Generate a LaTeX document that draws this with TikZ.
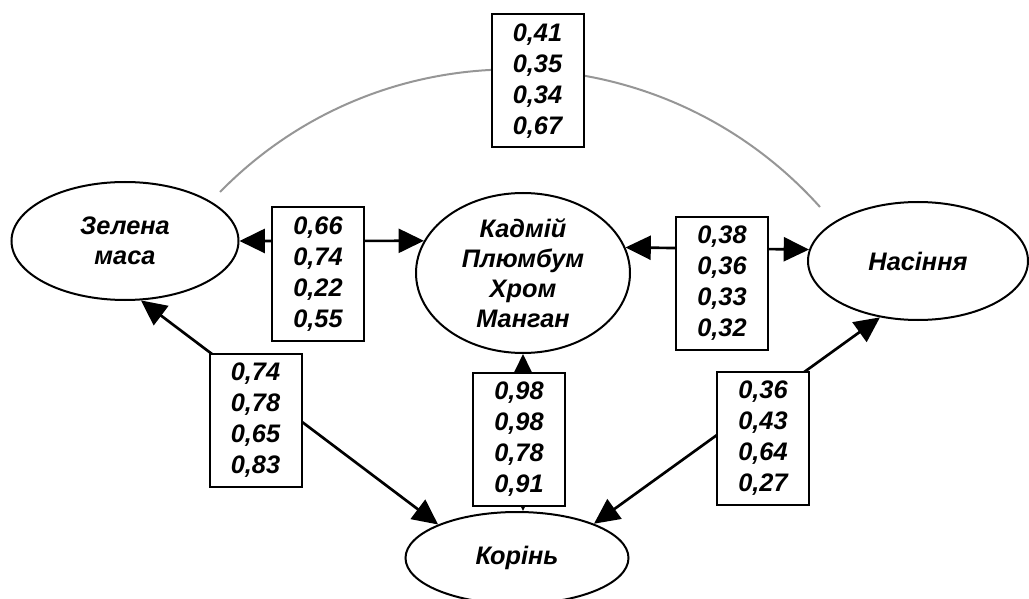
\documentclass[tikz,border=0pt]{standalone}
\usepackage{fontspec}
\setmainfont{Liberation Sans}
\usetikzlibrary{arrows.meta,shapes.geometric}

\tikzset{every picture/.style={line width=0.75pt}}
\tikzset{
  organ/.style={draw, ellipse, line width=1.5pt, inner sep=0pt, align=center,
    font=\fontsize{19}{22.5}\selectfont\bfseries\itshape},
  valbox/.style={draw, line width=1.5pt, fill=white, inner sep=0.75pt,
    minimum width=69pt, minimum height=99.75pt, align=center,
    font=\fontsize{19}{23.25}\selectfont\bfseries\itshape},
  biarrow/.style={line width=2pt,
    {Triangle[length=19pt,width=18pt]}-{Triangle[length=19pt,width=18pt]}},
  outerarc/.style={color={rgb, 255:red, 150; green, 150; blue, 150}, line width=1.5pt},
}

\begin{document}
\begin{tikzpicture}[x=0.75pt,y=0.75pt,yscale=-1,xscale=1]
\useasboundingbox (0,0) rectangle (1029,599);
%Shape: Ellipse [id:zel]
\node [organ, minimum width=170.25pt, minimum height=88.5pt] (zel) at (125,241) {Зелена\\маса};
%Shape: Ellipse [id:cen]
\node [organ, minimum width=160.5pt, minimum height=120pt] (cen) at (523,273) {Кадмій\\Плюмбум\\Хром\\Манган};
%Shape: Ellipse [id:nas]
\node [organ, minimum width=165pt, minimum height=88.5pt] (nas) at (918,261) {Насіння};
%Shape: Ellipse [id:kor]
\node [organ, minimum width=167.25pt, minimum height=69pt] (kor) at (517,558) {Корінь};
%Curve Lines [id:arc]
\coordinate (arcl) at (220,192);
\coordinate (arcr) at (820,207);
\draw [outerarc] (arcl) .. controls (386.4,22.3) and (661.2,30.1) .. (arcr) ;
%Straight Lines [id:zelcen]
\draw [biarrow] (zel.east) -- (cen.162) ;
%Straight Lines [id:cennas]
\draw [biarrow] (cen.14) -- (nas.174) ;
%Straight Lines [id:zelkor]
\draw [biarrow] (zel.-75) -- (kor.157) ;
%Straight Lines [id:nasnor]
\draw [biarrow] (nas.-124) -- (kor.24) ;
%Straight Lines [id:cenkor]
\draw [biarrow] (cen.south) -- (cen.south |- kor.north) ;
% Text Node
\node [valbox] (bzn) at (537.5,81) {0,41\\0,35\\0,34\\0,67};
% Text Node
\node [valbox] (bzc) at (318,274) {0,66\\0,74\\0,22\\0,55};
% Text Node
\node [valbox] (bcn) at (722,283.5) {0,38\\0,36\\0,33\\0,32};
% Text Node
\node [valbox] (bzk) at (255.5,420.5) {0,74\\0,78\\0,65\\0,83};
% Text Node
\node [valbox] (bck) at (519,439) {0,98\\0,98\\0,78\\0,91};
% Text Node
\node [valbox] (bnk) at (763,438.5) {0,36\\0,43\\0,64\\0,27};
\end{tikzpicture}
\end{document}
